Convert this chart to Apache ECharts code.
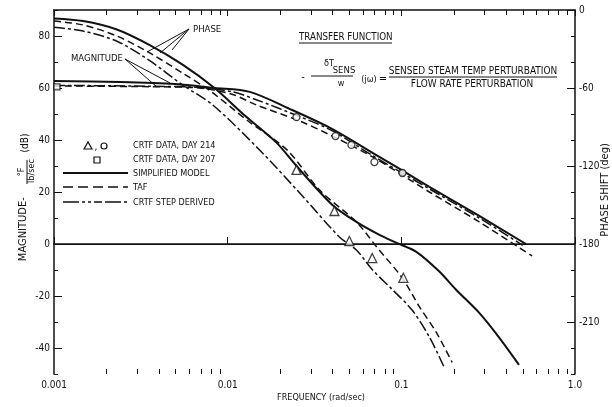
<!DOCTYPE html>
<html><head><meta charset="utf-8">
<script src="https://cdn.jsdelivr.net/npm/echarts@6/dist/echarts.min.js"></script>
<style>html,body{margin:0;padding:0;background:#fff}#c{width:612px;height:407px}</style>
</head><body><div id="c"></div>
<script>
// ---- data (frequency rad/sec, value) ----
const magSimplified = [[0.001,62.7],[0.0024,62.3],[0.005,61.5],[0.0084,60],[0.0134,58.5],[0.0227,52],[0.0401,44.2],[0.0718,34.2],[0.0974,29],[0.145,22],[0.281,10.8],[0.522,0]];
const magTAF = [[0.001,60.8],[0.00356,60.5],[0.0069,60],[0.0107,57.5],[0.0146,53.5],[0.026,47.3],[0.0401,41.5],[0.0683,33.5],[0.145,20],[0.281,8.5],[0.566,-4.6]];
const magCRTFStep = [[0.001,61],[0.0035,60.7],[0.0069,60.2],[0.0107,58.5],[0.0146,55.5],[0.026,49],[0.0401,43.5],[0.0683,34],[0.145,21.2],[0.281,10],[0.5,-0.5]];
const phSimplified = [[0.001,-6.5],[0.00147,-8.5],[0.0023,-15],[0.00356,-27],[0.0055,-42],[0.0084,-60],[0.0125,-81],[0.0191,-102],[0.0249,-120],[0.0401,-150],[0.0551,-163],[0.0748,-173],[0.0935,-179],[0.122,-186],[0.165,-201],[0.206,-215],[0.281,-233],[0.366,-252],[0.476,-273]];
const phTAF = [[0.001,-8.5],[0.00147,-11.5],[0.0023,-20],[0.00356,-33],[0.0055,-48.5],[0.00788,-62],[0.013,-85],[0.0221,-108],[0.0338,-138.5],[0.0551,-163],[0.0718,-182],[0.1011,-206],[0.1267,-228],[0.159,-248],[0.196,-271]];
const phCRTFStep = [[0.001,-13.3],[0.00147,-16.2],[0.0023,-24],[0.00356,-39],[0.0055,-57.7],[0.0082,-73],[0.01527,-107.7],[0.026,-140.8],[0.044,-174.6],[0.0551,-184.6],[0.0683,-200],[0.0887,-215],[0.1156,-231],[0.145,-251.5],[0.1767,-275]];
const day214Phase = [[0.0249,-123],[0.0412,-154.6],[0.0502,-177.7],[0.068,-190.8],[0.1027,-206]];
const day214Mag = [[0.0249,48.8],[0.0418,41.5],[0.0516,38.1],[0.070,31.5],[0.1015,27.3]];
const day207Mag = [[0.00104,60.4]];

const xMajorTicks = [0.001,0.01,0.1,1];
const xTickLabels = ['0.001','0.01','0.1','1.0'];
const xMinorTicks = [];
[0.001,0.01,0.1].forEach(d=>{for(let k=2;k<=9;k++) xMinorTicks.push(+(d*k).toPrecision(3));});
const magMajorTicks = [-40,-20,0,20,40,60,80];
const phaseTickValues = [0,-60,-120,-180,-240];
const phaseTickLabels = ['0','-60','-120','-180','-210'];

const FF = "'Liberation Sans Narrow','DejaVu Sans Condensed','Roboto Condensed','Liberation Sans',sans-serif";
const BLK = '#111';

function xLabel(v){
  for(let i=0;i<xMajorTicks.length;i++){ if(Math.abs(Math.log10(v)-Math.log10(xMajorTicks[i]))<1e-6) return xTickLabels[i]; }
  return '';
}
function phLabel(v){
  const i = phaseTickValues.indexOf(Math.round(v));
  return i>=0 ? phaseTickLabels[i] : '';
}
function magLabel(v){ return (Math.round(v)%20===0) ? String(Math.round(v)) : ''; }

const chart = echarts.init(document.getElementById('c'), null, {renderer:'canvas'});
const grid = {left:54, right:37, top:10, bottom:33};
const lineBase = (name,data,yi,type,w)=>({name,type:'line',data,xAxisIndex:0,yAxisIndex:yi,showSymbol:false,smooth:0.3,
  lineStyle:{color:BLK,width:w,type:type},silent:true});
const tTxt = (x,y,text,opt,rot)=>({type:'text',x,y,rotation:rot||0,silent:true,style:Object.assign({text,fill:BLK,font:'10px '+FF,align:'center',verticalAlign:'middle'},opt||{})});
const gLine = (x1,y1,x2,y2,w,dash)=>({type:'line',silent:true,shape:{x1,y1,x2,y2},style:{stroke:BLK,lineWidth:w||1,lineDash:dash||null}});
const R = Math.PI/2;

const option = {
  animation:false,
  backgroundColor:'#fff',
  grid,
  xAxis:[
    {type:'log',logBase:10,min:0.001,max:1,position:'bottom',
     axisLine:{lineStyle:{color:BLK,width:1.5}},
     axisTick:{inside:true,length:7,lineStyle:{color:BLK}},
     axisLabel:{formatter:xLabel,color:BLK,fontFamily:FF,fontSize:10,margin:6},
     splitLine:{show:false},minorTick:{show:false}},
    {type:'log',logBase:10,min:0.001,max:1,position:'top',
     axisLine:{lineStyle:{color:BLK,width:1.5}},
     axisTick:{inside:true,length:6,lineStyle:{color:BLK}},
     axisLabel:{show:false},splitLine:{show:false}}
  ],
  yAxis:[
    {type:'value',min:-50,max:90,interval:10,position:'left',
     axisLine:{show:true,lineStyle:{color:BLK,width:1.5}},
     axisTick:{show:true,inside:true,length:4,lineStyle:{color:BLK}},
     axisLabel:{formatter:magLabel,color:BLK,fontFamily:FF,fontSize:10,margin:4},
     splitLine:{show:false}},
    {type:'value',min:-280,max:0,interval:20,position:'right',
     axisLine:{show:true,lineStyle:{color:BLK,width:1.5}},
     axisTick:{show:true,inside:true,length:4,lineStyle:{color:BLK}},
     axisLabel:{formatter:phLabel,color:BLK,fontFamily:FF,fontSize:10,margin:4},
     splitLine:{show:false}}
  ],
  series:[
    Object.assign(lineBase('magSimplified',magSimplified,0,'solid',2),{
      markLine:{silent:true,symbol:'none',label:{show:false},lineStyle:{color:BLK,width:1,type:'solid'},data:[{yAxis:0}]}}),
    lineBase('magTAF',magTAF,0,[7,4],1.5),
    lineBase('magCRTF',magCRTFStep,0,[11,3,3,3],1.5),
    lineBase('phSimplified',phSimplified,1,'solid',2),
    lineBase('phTAF',phTAF,1,[7,4],1.5),
    lineBase('phCRTF',phCRTFStep,1,[11,3,3,3],1.5),
    {name:'day214Phase',type:'scatter',data:day214Phase,xAxisIndex:0,yAxisIndex:1,symbol:'triangle',symbolSize:9,
     itemStyle:{color:'#fff',borderColor:BLK,borderWidth:1.3},silent:true,z:5},
    {name:'day214Mag',type:'scatter',data:day214Mag,xAxisIndex:0,yAxisIndex:0,symbol:'circle',symbolSize:7,
     itemStyle:{color:'#fff',borderColor:BLK,borderWidth:1.3},silent:true,z:5},
    {name:'day207Mag',type:'scatter',data:day207Mag,xAxisIndex:0,yAxisIndex:0,symbol:'rect',symbolSize:6,
     itemStyle:{color:'#fff',borderColor:BLK,borderWidth:1.3},silent:true,z:5}
  ],
  graphic:[
    // legend
    {type:'polygon',silent:true,shape:{points:[[84,149],[88,142],[92,149]]},style:{fill:'#fff',stroke:BLK,lineWidth:1.2}},
    tTxt(96,147,','),
    {type:'circle',silent:true,shape:{cx:104,cy:146,r:3},style:{fill:'#fff',stroke:BLK,lineWidth:1.2}},
    tTxt(133,146,'CRTF DATA, DAY 214',{align:'left',font:'9px '+FF}),
    {type:'rect',silent:true,shape:{x:94,y:157,width:6,height:6},style:{fill:'#fff',stroke:BLK,lineWidth:1.2}},
    tTxt(133,160,'CRTF DATA, DAY 207',{align:'left',font:'9px '+FF}),
    gLine(63,173,128,173,2),
    tTxt(133,174,'SIMPLIFIED MODEL',{align:'left',font:'9px '+FF}),
    gLine(63,187,128,187,1.5,[10,5]),
    tTxt(133,188,'TAF',{align:'left',font:'9px '+FF}),
    gLine(63,202,128,202,1.5,[16,3,3,3,3,3,8,3]),
    tTxt(133,203,'CRTF STEP DERIVED',{align:'left',font:'9px '+FF}),
    // annotations
    tTxt(193,30,'PHASE',{align:'left',font:'9.5px '+FF}),
    gLine(189,29,147,52,1), gLine(189,29,160,53,1), gLine(189,29,172,50,1),
    tTxt(123,59,'MAGNITUDE',{align:'right',font:'9.5px '+FF}),
    gLine(125,59,157,87,1), gLine(125,59,170,83,1),
    // transfer function
    tTxt(299,37,'TRANSFER FUNCTION',{align:'left',font:'9.7px '+FF}),
    gLine(299,43,392,43,1),
    tTxt(303,77,'-',{font:'11px '+FF}),
    tTxt(329,64,'\u03B4T',{font:'9px '+FF}),
    tTxt(344,71,'SENS',{font:'9.5px '+FF}),
    gLine(311,76,353,76,1),
    tTxt(341,84,'w',{font:'9px '+FF}),
    tTxt(369,80,'(j\u03C9)',{font:'9px '+FF}),
    tTxt(383,79,'=',{font:'11px '+FF}),
    tTxt(473,71,'SENSED STEAM TEMP PERTURBATION',{font:'10px '+FF}),
    gLine(389,77,557,77,1),
    tTxt(472,84,'FLOW RATE PERTURBATION',{font:'10px '+FF}),
    // axis titles
    tTxt(321,398,'FREQUENCY (rad/sec)',{font:'9px '+FF}),
    tTxt(605,190,'PHASE SHIFT (deg)',{font:'11px '+FF},R),
    tTxt(23,231,'MAGNITUDE',{font:'11px '+FF},R),
    tTxt(23,199,'-',{font:'11px '+FF},R),
    tTxt(22,172,'\u00B0F',{font:'9px '+FF},R),
    gLine(27,160,27,184,1),
    tTxt(32,171,'lb/sec',{font:'9px '+FF},R),
    tTxt(25,143,'(dB)',{font:'10px '+FF},R)
  ]
};
chart.setOption(option);

// extra minor/major ticks positioned through the axes' own scales
const px = v => Math.round(v) + 0.5;
const yBot = chart.convertToPixel({yAxisIndex:0}, -50);
const yTop = chart.convertToPixel({yAxisIndex:0}, 90);
const xL = chart.convertToPixel({xAxisIndex:0}, 0.001);
const xR = chart.convertToPixel({xAxisIndex:0}, 1);
const tickG = [];
xMinorTicks.forEach(v=>{
  const x = px(chart.convertToPixel({xAxisIndex:0}, v));
  tickG.push(gLine(x,yBot,x,yBot-5,1));
  tickG.push(gLine(x,yTop,x,yTop+5,1));
});
magMajorTicks.forEach(v=>{
  const y = px(chart.convertToPixel({yAxisIndex:0}, v));
  tickG.push(gLine(xL,y,xL+8,y,1));
});
phaseTickValues.forEach(v=>{
  const y = px(chart.convertToPixel({yAxisIndex:1}, v));
  tickG.push(gLine(xR,y,xR-8,y,1));
});
chart.setOption({graphic: option.graphic.concat(tickG)});
</script>
</body></html>
